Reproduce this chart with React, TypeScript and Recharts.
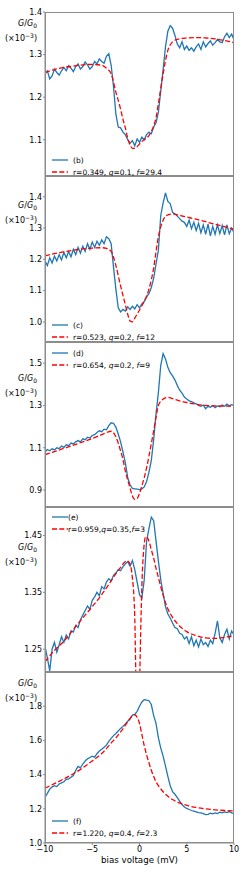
import React from 'react';
import { LineChart, Line, XAxis, YAxis } from 'recharts';

// bias voltage grid of the measured curves (mV)
const bias = [
  -10, -9.75, -9.5, -9.25, -9, -8.75, -8.5, -8.25, -8, -7.75, -7.5, -7.25, -7, -6.75, -6.5, -6.25, -6, -5.75, -5.5, -5.25,
  -5, -4.75, -4.5, -4.25, -4, -3.75, -3.5, -3.25, -3, -2.75, -2.5, -2.25, -2, -1.75, -1.5, -1.25, -1, -0.75, -0.5, -0.25,
  0, 0.25, 0.5, 0.75, 1, 1.25, 1.5, 1.75, 2, 2.25, 2.5, 2.75, 3, 3.25, 3.5, 3.75, 4, 4.25, 4.5, 4.75,
  5, 5.25, 5.5, 5.75, 6, 6.25, 6.5, 6.75, 7, 7.25, 7.5, 7.75, 8, 8.25, 8.5, 8.75, 9, 9.25, 9.5, 9.75, 10,
];

// measured G/G0 (x1e-3)
const gB = [
  1.255, 1.262, 1.243, 1.25, 1.266, 1.258, 1.252, 1.262, 1.27, 1.262, 1.274, 1.268, 1.26, 1.272, 1.278, 1.266, 1.272, 1.283, 1.276, 1.266,
  1.272, 1.284, 1.278, 1.29, 1.284, 1.28, 1.296, 1.302, 1.275, 1.225, 1.16, 1.13, 1.128, 1.118, 1.112, 1.1, 1.092, 1.098, 1.086, 1.102,
  1.094, 1.106, 1.1, 1.112, 1.118, 1.114, 1.13, 1.14, 1.165, 1.215, 1.265, 1.318, 1.355, 1.368, 1.362, 1.345, 1.325, 1.316, 1.33, 1.312,
  1.32, 1.31, 1.316, 1.308, 1.318, 1.325, 1.312, 1.33, 1.318, 1.326, 1.332, 1.322, 1.328, 1.336, 1.33, 1.328, 1.342, 1.35, 1.34, 1.348, 1.335,
];
const gC = [
  1.195, 1.18, 1.205, 1.188, 1.21, 1.195, 1.215, 1.198, 1.222, 1.205, 1.225, 1.208, 1.232, 1.215, 1.238, 1.22, 1.242, 1.225, 1.25, 1.232,
  1.255, 1.238, 1.258, 1.245, 1.262, 1.25, 1.272, 1.266, 1.25, 1.175, 1.105, 1.045, 1.032, 1.04, 1.035, 1.048, 1.04, 1.05, 1.042, 1.055,
  1.045, 1.058, 1.065, 1.08, 1.09, 1.11, 1.14, 1.185, 1.23, 1.34, 1.38, 1.412, 1.385, 1.378, 1.35, 1.345, 1.338, 1.33, 1.322, 1.318,
  1.305, 1.325, 1.298, 1.318, 1.292, 1.315, 1.285, 1.31, 1.28, 1.312, 1.275, 1.305, 1.28, 1.31, 1.282, 1.308, 1.278, 1.31, 1.282, 1.3, 1.285,
];
const gD = [
  1.08, 1.092, 1.086, 1.095, 1.09, 1.1, 1.096, 1.108, 1.102, 1.114, 1.11, 1.122, 1.118, 1.128, 1.134, 1.128, 1.142, 1.138, 1.15, 1.146,
  1.158, 1.162, 1.172, 1.18, 1.176, 1.188, 1.185, 1.205, 1.218, 1.216, 1.198, 1.165, 1.128, 1.08, 1.03, 0.96, 0.925, 0.908, 0.906, 0.904,
  0.902, 0.906, 0.915, 0.94, 0.985, 1.04, 1.14, 1.26, 1.362, 1.49, 1.545, 1.52, 1.48, 1.455, 1.44, 1.42, 1.395, 1.372, 1.358, 1.34,
  1.33, 1.322, 1.318, 1.312, 1.308, 1.3, 1.296, 1.302, 1.285, 1.296, 1.292, 1.3, 1.29, 1.298, 1.294, 1.302, 1.296, 1.306, 1.298, 1.304, 1.3,
];
const gE = [
  1.255, 1.235, 1.212, 1.25, 1.262, 1.245, 1.258, 1.272, 1.262, 1.275, 1.268, 1.282, 1.28, 1.292, 1.288, 1.302, 1.31, 1.318, 1.326, 1.32,
  1.336, 1.342, 1.35, 1.344, 1.36, 1.356, 1.368, 1.374, 1.37, 1.38, 1.384, 1.39, 1.388, 1.395, 1.4, 1.404, 1.396, 1.406, 1.39, 1.368,
  1.346, 1.34, 1.372, 1.44, 1.462, 1.482, 1.476, 1.44, 1.405, 1.372, 1.348, 1.325, 1.312, 1.305, 1.296, 1.288, 1.286, 1.278, 1.276, 1.268,
  1.272, 1.26, 1.272, 1.256, 1.266, 1.254, 1.268, 1.258, 1.262, 1.255, 1.266, 1.26, 1.278, 1.3, 1.27, 1.262, 1.276, 1.285, 1.268, 1.282, 1.275,
];
const gF = [
  1.268, 1.29, 1.315, 1.328, 1.335, 1.33, 1.345, 1.352, 1.358, 1.372, 1.375, 1.385, 1.395, 1.425, 1.448, 1.44, 1.462, 1.48, 1.492, 1.5,
  1.508, 1.502, 1.522, 1.538, 1.548, 1.56, 1.572, 1.594, 1.612, 1.628, 1.64, 1.655, 1.67, 1.682, 1.696, 1.712, 1.725, 1.748, 1.752, 1.77,
  1.8, 1.825, 1.838, 1.836, 1.832, 1.81, 1.745, 1.7, 1.615, 1.555, 1.508, 1.45, 1.39, 1.335, 1.3, 1.285, 1.265, 1.245, 1.225, 1.21,
  1.202, 1.196, 1.19, 1.186, 1.182, 1.178, 1.176, 1.172, 1.166, 1.168, 1.174, 1.17, 1.176, 1.172, 1.18, 1.176, 1.182, 1.178, 1.184, 1.176, 1.172,
];

// fit curves
const fitBias = [
  -10, -9, -8, -7, -6, -5, -4, -3.5, -3, -2.5, -2, -1.75, -1.5, -1.25, -1, -0.75, -0.5, -0.25, 0,
  0.25, 0.5, 0.75, 1, 1.25, 1.5, 1.75, 2, 2.5, 3, 3.5, 4, 5, 6, 7, 8, 9, 10,
];
const fitB = [
  1.258, 1.265, 1.27, 1.273, 1.276, 1.277, 1.275, 1.268, 1.255, 1.212, 1.172, 1.148, 1.128, 1.104, 1.088, 1.08, 1.08, 1.084, 1.09,
  1.096, 1.1, 1.104, 1.11, 1.12, 1.132, 1.152, 1.185, 1.255, 1.31, 1.33, 1.336, 1.339, 1.34, 1.339, 1.337, 1.333, 1.328,
];
const fitC = [
  1.211, 1.218, 1.224, 1.229, 1.233, 1.236, 1.237, 1.235, 1.225, 1.18, 1.115, 1.085, 1.055, 1.025, 1.003, 1.0, 1.012, 1.025, 1.038,
  1.052, 1.066, 1.082, 1.105, 1.135, 1.172, 1.225, 1.272, 1.325, 1.342, 1.345, 1.342, 1.335, 1.328, 1.32, 1.312, 1.304, 1.296,
];
const fitD = [
  1.068, 1.082, 1.097, 1.112, 1.128, 1.144, 1.162, 1.172, 1.178, 1.152, 1.085, 1.045, 0.99, 0.948, 0.91, 0.872, 0.856, 0.86, 0.885,
  0.92, 0.958, 1.005, 1.06, 1.12, 1.18, 1.245, 1.3, 1.33, 1.338, 1.332, 1.325, 1.314, 1.306, 1.3, 1.298, 1.297, 1.297,
];
const fitF = [
  1.321, 1.347, 1.375, 1.405, 1.44, 1.48, 1.523, 1.552, 1.585, 1.615, 1.65, 1.668, 1.688, 1.708, 1.728, 1.744, 1.75, 1.735, 1.7,
  1.635, 1.57, 1.515, 1.47, 1.425, 1.39, 1.358, 1.336, 1.3, 1.273, 1.254, 1.24, 1.22, 1.208, 1.2, 1.194, 1.19, 1.187,
];
// panel (e) fit dives out of the axes near zero bias, so it gets a finer grid
const fitBiasE = [
  -10, -9, -8, -7, -6, -5, -4, -3, -2.5, -2, -1.5, -1.25, -1, -0.75, -0.6, -0.5, -0.4, -0.3, -0.2, -0.1, 0,
  0.1, 0.2, 0.3, 0.4, 0.5, 0.6, 0.75, 0.9, 1, 1.25, 1.5, 1.75, 2, 2.5, 3, 3.5, 4, 5, 6, 7, 8, 9, 10,
];
const fitE = [
  1.228, 1.248, 1.264, 1.285, 1.305, 1.325, 1.346, 1.37, 1.383, 1.394, 1.404, 1.405, 1.4, 1.375, 1.345, 1.305, 1.215, 1.1, 0.95, 0.8, 1.15,
  1.26, 1.33, 1.385, 1.415, 1.435, 1.446, 1.448, 1.444, 1.44, 1.425, 1.41, 1.392, 1.376, 1.345, 1.321, 1.306, 1.295, 1.281, 1.274, 1.27, 1.269, 1.271, 1.274,
];

const tags = ['(b)', '(c)', '(d)', '(e)', '(f)'];
const rVals = ['0.349', '0.523', '0.654', '0.959', '1.220'];
const qVals = ['0.1', '0.2', '0.2', '0.35', '0.4'];
const fVals = ['29.4', '12', '9', '3', '2.3'];

const yTicks = [
  [1.1, 1.2, 1.3, 1.4],
  [1.0, 1.1, 1.2, 1.3, 1.4],
  [0.9, 1.1, 1.3, 1.5],
  [1.25, 1.35, 1.45],
  [1.0, 1.2, 1.4, 1.6, 1.8],
];
const xTicks = [-10, -5, 0, 5, 10];

const BLUE = '#1f77b4';
const RED = '#ff0000';
const FRAME = '#8c8c8c';
const FONT = '"DejaVu Sans", sans-serif';
const PLOT_LEFT = 45;
const PLOT_RIGHT = 234;

// layout of the five stacked axes
const panels = [
  { top: 12, height: 164, domain: [1.015, 1.4], digits: 1, labelY: 25, legendY: 160, legendGap: 5 },
  { top: 176, height: 166, domain: [0.936, 1.466], digits: 1, labelY: 207, legendY: 325, legendGap: 5 },
  { top: 342, height: 165, domain: [0.82, 1.6], digits: 1, labelY: 380, legendY: 353, legendGap: 5 },
  { top: 507, height: 165, domain: [1.21, 1.5], digits: 2, labelY: 549, legendY: 517, legendGap: 0 },
  { top: 672, height: 171, domain: [1.0, 2.0], digits: 1, labelY: 685, legendY: 821, legendGap: 5 },
];
const measured = [gB, gC, gD, gE, gF];
const fits = [fitB, fitC, fitD, fitE, fitF];
const fitGrids = [fitBias, fitBias, fitBias, fitBiasE, fitBias];

const minus = (v: number) => String(v).replace('-', '\u2212');

const Panel = ({ idx }: { idx: number }) => {
  const p = panels[idx];
  const last = idx === panels.length - 1;
  const data = bias.map((x, i) => ({ x, y: measured[idx][i] }));
  const fit = fitGrids[idx].map((x, i) => ({ x, y: fits[idx][i] }));
  const mt = 12;
  const xh = last ? 29 : 0;
  const mb = last ? 0 : 4;
  return (
    <div style={{ position: 'absolute', left: 0, top: p.top - mt }}>
      <LineChart width={249} height={mt + p.height + xh + mb} margin={{ top: mt, right: 249 - PLOT_RIGHT, left: 0, bottom: mb }}>
        <XAxis
          type="number"
          dataKey="x"
          domain={[-10, 10]}
          ticks={xTicks}
          interval={0}
          hide={!last}
          height={xh}
          tick={{ fontSize: 8, fill: '#000', fontFamily: FONT }}
          tickLine={{ stroke: FRAME }}
          tickSize={2}
          tickMargin={1}
          tickFormatter={minus}
          axisLine={{ stroke: FRAME }}
          allowDataOverflow
          label={{ value: 'bias voltage (mV)', position: 'insideBottom', offset: 9, fontSize: 8.7, fill: '#000', fontFamily: FONT }}
        />
        <YAxis
          type="number"
          width={PLOT_LEFT}
          domain={p.domain}
          ticks={yTicks[idx]}
          interval={0}
          allowDataOverflow
          tickSize={2}
          tickMargin={1}
          tickFormatter={(v: number) => v.toFixed(p.digits)}
          tick={{ fontSize: 8, fill: '#000', fontFamily: FONT }}
          tickLine={{ stroke: FRAME }}
          axisLine={{ stroke: FRAME }}
        />
        <Line data={data} dataKey="y" type="linear" stroke={BLUE} strokeWidth={1.3} dot={false} isAnimationActive={false} />
        <Line data={fit} dataKey="y" type="monotone" stroke={RED} strokeWidth={1.3} strokeDasharray="5 2.3" dot={false} isAnimationActive={false} />
      </LineChart>
      {/* axes box */}
      <div
        style={{
          position: 'absolute',
          left: PLOT_LEFT,
          top: mt,
          width: PLOT_RIGHT - PLOT_LEFT,
          height: p.height,
          border: `1px solid ${FRAME}`,
          boxSizing: 'border-box',
          pointerEvents: 'none',
        }}
      />
    </div>
  );
};

const YLabel = ({ y }: { y: number }) => (
  <div style={{ position: 'absolute', left: 0, top: y - 6, width: 37, textAlign: 'right', fontSize: 8, lineHeight: '10px', fontFamily: FONT, color: '#000' }}>
    <div>
      <i>G</i>/<i>G</i>
      <span style={{ fontSize: 6, verticalAlign: '-2px' }}>0</span>
    </div>
    <div>
      (×10<span style={{ fontSize: 6, verticalAlign: '3px' }}>−3</span>)
    </div>
  </div>
);

const LegendBox = ({ idx }: { idx: number }) => {
  const p = panels[idx];
  const row = (y: number, dashed: boolean, content: React.ReactNode) => (
    <div style={{ position: 'absolute', left: 52, top: y - 5, height: 10, display: 'flex', alignItems: 'center', whiteSpace: 'nowrap' }}>
      <svg width={16} height={4} style={{ marginRight: p.legendGap }}>
        <line x1={0} x2={16} y1={2} y2={2} stroke={dashed ? RED : BLUE} strokeWidth={1.3} strokeDasharray={dashed ? '5 2.3' : undefined} />
      </svg>
      <span style={{ fontSize: 7.5, fontFamily: FONT, color: '#000' }}>{content}</span>
    </div>
  );
  const sep = idx === 3 ? ',' : ', ';
  return (
    <>
      {row(p.legendY, false, tags[idx])}
      {row(p.legendY + 12, true, (
        <>
          r={rVals[idx]}{sep}<i>q</i>={qVals[idx]}{sep}<i>f</i>={fVals[idx]}
        </>
      ))}
    </>
  );
};

export default function App() {
  return (
    <div style={{ position: 'absolute', left: 0, top: 0, width: 249, height: 872, background: '#fff', fontFamily: FONT }}>
      {panels.map((p, i) => (
        <React.Fragment key={i}>
          <Panel idx={i} />
          <YLabel y={p.labelY} />
          <LegendBox idx={i} />
        </React.Fragment>
      ))}
    </div>
  );
}
